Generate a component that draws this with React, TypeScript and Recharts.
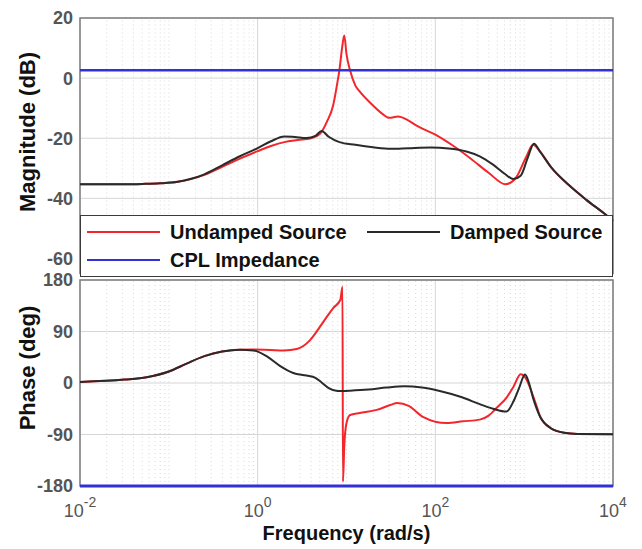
import {
  CartesianGrid,
  Legend,
  Line,
  LineChart,
  ReferenceArea,
  ReferenceLine,
  XAxis,
  YAxis,
} from 'recharts'

const FONT = '"Liberation Sans", Arial, Helvetica, sans-serif'
const RED = '#f2262b'
const BLACK = '#2a2a2a'
const BLUE = '#3131d6'
const TICK_GRAY = '#555555'

// frequencies are stored as log10(rad/s)
const undampedMagExp = [
  -2, -1.5, -1.3, -1.1, -0.9, -0.75, -0.6, -0.4, -0.2, 0, 0.15, 0.3, 0.45, 0.6, 0.7, 0.78,
  0.85, 0.9, 0.92, 0.95, 0.975, 1.0, 1.04, 1.1, 1.15, 1.27, 1.4, 1.48, 1.58, 1.68, 1.8, 2.0,
  2.2, 2.4, 2.6, 2.79, 2.91, 3.02, 3.1, 3.18, 3.3, 3.5, 3.7, 3.92, 4.0,
]
const undampedMag = [
  -35.3, -35.3, -35.2, -35.0, -34.5, -33.6, -32.2, -29.5, -26.8, -24.3, -22.6, -21.3, -20.6,
  -20.0, -18.6, -14.5, -9, -1, 2.6, 10, 14.2, 8, 2.6, -2.5, -4.5, -8.3, -11.8, -13.2, -12.8,
  -13.8, -16, -18.8, -22.5, -26.8, -31.5, -35.3, -33, -26.4, -22.2, -24.5, -29.5, -35.5,
  -40.5, -45.5, -47.5,
]

const dampedMagExp = [
  -2, -1.5, -1.3, -1.1, -0.9, -0.75, -0.6, -0.4, -0.2, 0, 0.15, 0.3, 0.42, 0.55, 0.65, 0.72,
  0.8, 0.92, 1.1, 1.3, 1.5, 1.7, 1.95, 2.15, 2.35, 2.5, 2.65, 2.78, 2.88, 2.96, 3.04, 3.11,
  3.18, 3.3, 3.5, 3.7, 3.92, 4.0,
]
const dampedMag = [
  -35.3, -35.3, -35.2, -35.0, -34.5, -33.5, -32.0, -29.0, -26.0, -23.3, -21.0, -19.4, -19.6,
  -19.9, -19.2, -17.6, -19.5, -21.3, -22.2, -23.0, -23.5, -23.3, -23.1, -23.4, -24.4, -26.0,
  -28.8, -31.8, -33.6, -32.5, -26.5, -21.8, -24.5, -29.5, -35.5, -40.5, -45.5, -47.5,
]

const undampedPhaseExp = [
  -2, -1.5, -1.25, -1.0, -0.8, -0.6, -0.4, -0.2, -0.05, 0.14, 0.3, 0.44, 0.59, 0.7, 0.78,
  0.85, 0.93, 0.955, 0.96, 0.975, 1.0, 1.04, 1.15, 1.34, 1.5, 1.57, 1.7, 1.86, 2.13, 2.31,
  2.5, 2.6, 2.7, 2.8, 2.88, 2.96, 3.02, 3.08, 3.15, 3.18, 3.3, 3.45, 3.6, 4.0,
]
const undampedPhase = [
  1.7, 6, 10, 20, 34, 47, 55, 58, 58.5, 57.7, 57, 59.4, 75, 98, 116, 131, 145, 168, -172,
  -110, -70, -56, -52.6, -47, -38, -35, -40, -59, -70, -67, -64, -57, -42, -26, -6.5, 15.5,
  8, -14, -45, -59, -79, -87, -89, -89.5,
]

const dampedPhaseExp = [
  -2, -1.5, -1.25, -1.0, -0.8, -0.6, -0.4, -0.2, -0.05, 0.1, 0.25, 0.4, 0.55, 0.65, 0.72,
  0.8, 0.9, 1.04, 1.25, 1.45, 1.65, 1.85, 2.05, 2.3, 2.5, 2.65, 2.8, 2.88, 2.94, 3.01, 3.05,
  3.1, 3.18, 3.3, 3.45, 3.6, 4.0,
]
const dampedPhase = [
  1.7, 6, 10, 20, 34, 47, 55, 58, 57, 47, 30, 17.5, 13, 9, 1, -9, -14, -13.4, -11.5, -8,
  -5.7, -8, -14, -25, -37, -45, -50, -32, -10, 15, 2, -26, -59, -79, -87, -89, -89.5,
]

const cplExp = [-2, 4]
const cplMag = [2.6, 2.6]
const cplPhase = [-180, -180]

const freqTicks = [0.01, 1, 100, 10000]
const magTicks = [-60, -40, -20, 0, 20]
const phaseTicks = [-180, -90, 0, 90, 180]
const legendOrder = ['Undamped Source', 'Damped Source', 'CPL Impedance']

const toRows = (exps: number[], vals: number[]) =>
  exps.map((e, i) => ({ f: 10 ** e, v: vals[i] }))

// dotted minor grid, matlab style (2..9 x 10^k plus the odd decades)
const minorFreqs: number[] = []
for (let k = -2; k < 4; k++) {
  for (let m = 1; m < 10; m++) {
    if (m === 1 && k % 2 === 0) continue
    minorFreqs.push(m * 10 ** k)
  }
}

function FreqTick({ x, y, payload }: any) {
  const exp = Math.round(Math.log10(payload.value))
  return (
    <text x={x} y={y + 31} textAnchor="middle" fill={TICK_GRAY} fontSize={18} fontFamily={FONT}>
      10
      <tspan dy={-10} fontSize={14}>
        {exp}
      </tspan>
    </text>
  )
}

const yTitle = (text: string, cx: number, cy: number) => ({
  content: () => (
    <text
      x={cx}
      y={cy}
      transform={`rotate(-90 ${cx} ${cy})`}
      textAnchor="middle"
      dominantBaseline="central"
      fontSize={22}
      fontWeight="bold"
      fill="#111"
      fontFamily={FONT}
    >
      {text}
    </text>
  ),
})

function BodeLegend({ payload }: any) {
  const items = [...(payload ?? [])].sort(
    (a, b) => legendOrder.indexOf(a.value) - legendOrder.indexOf(b.value),
  )
  return (
    <div
      style={{
        position: 'relative',
        width: 533,
        height: 62,
        boxSizing: 'border-box',
        border: '1.5px solid #3a3a3a',
        background: '#fff',
        fontFamily: FONT,
      }}
    >
      {items.map((p, i) => (
        <div
          key={p.value}
          style={{
            position: 'absolute',
            left: 6 + (i % 2) * 280,
            top: i < 2 ? 3 : 31,
            height: 26,
            display: 'flex',
            alignItems: 'center',
          }}
        >
          <span style={{ width: 73, borderTop: `2px solid ${p.color}`, marginRight: 10 }} />
          <span style={{ fontSize: 20, fontWeight: 'bold', color: '#111', whiteSpace: 'nowrap' }}>
            {p.value}
          </span>
        </div>
      ))}
    </div>
  )
}

const grid = (y1: number, y2: number) => [
  <CartesianGrid key="grid" stroke="#d6d6d6" strokeWidth={1} />,
  ...minorFreqs.map((f) => (
    <ReferenceLine key={`m${f}`} x={f} stroke="#dadada" strokeDasharray="1 3" />
  )),
  <ReferenceArea
    key="box"
    x1={0.01}
    x2={10000}
    y1={y1}
    y2={y2}
    fill="none"
    stroke="#7d7d7d"
    strokeWidth={1.5}
  />,
]

const yTick = { fill: TICK_GRAY, fontSize: 18, fontWeight: 'bold', fontFamily: FONT }

export default function App() {
  return (
    <div
      style={{
        position: 'absolute',
        left: 0,
        top: 0,
        width: 642,
        height: 549,
        background: '#fff',
        fontFamily: FONT,
      }}
    >
      <div style={{ position: 'absolute', left: 0, top: 0 }}>
        <LineChart width={642} height={280} margin={{ top: 18, right: 29, bottom: 6.5, left: 8 }}>
          <XAxis
            dataKey="f"
            type="number"
            scale="log"
            domain={[0.01, 10000]}
            ticks={freqTicks}
            hide
          />
          <YAxis
            type="number"
            domain={[-65, 20]}
            ticks={magTicks}
            width={72}
            axisLine={false}
            tickLine={false}
            tickSize={0}
            tickMargin={7}
            tick={yTick}
            label={yTitle('Magnitude (dB)', 27, 132)}
          />
          {grid(-65, 20)}
          <Line
            data={toRows(undampedMagExp, undampedMag)}
            dataKey="v"
            name="Undamped Source"
            type="monotone"
            stroke={RED}
            strokeWidth={2}
            dot={false}
            activeDot={false}
            isAnimationActive={false}
          />
          <Line
            data={toRows(dampedMagExp, dampedMag)}
            dataKey="v"
            name="Damped Source"
            type="monotone"
            stroke={BLACK}
            strokeWidth={2}
            dot={false}
            activeDot={false}
            isAnimationActive={false}
          />
          <Line
            data={toRows(cplExp, cplMag)}
            dataKey="v"
            name="CPL Impedance"
            type="linear"
            stroke={BLUE}
            strokeWidth={2.5}
            dot={false}
            activeDot={false}
            isAnimationActive={false}
          />
          <Legend
            layout="horizontal"
            verticalAlign="middle"
            align="center"
            wrapperStyle={{ left: 80, top: 215, width: 533, height: 62 }}
            content={BodeLegend}
          />
        </LineChart>
      </div>
      <div style={{ position: 'absolute', left: 0, top: 262 }}>
        <LineChart width={642} height={287} margin={{ top: 18, right: 29, bottom: 0, left: 8 }}>
          <XAxis
            dataKey="f"
            type="number"
            scale="log"
            domain={[0.01, 10000]}
            ticks={freqTicks}
            interval={0}
            height={63}
            axisLine={false}
            tickLine={false}
            tickSize={0}
            tickMargin={0}
            tick={<FreqTick />}
            label={{
              content: () => (
                <text
                  x={346.5}
                  y={278}
                  textAnchor="middle"
                  fontSize={20}
                  fontWeight="bold"
                  fill="#111"
                  fontFamily={FONT}
                >
                  Frequency (rad/s)
                </text>
              ),
            }}
          />
          <YAxis
            type="number"
            domain={[-180, 180]}
            ticks={phaseTicks}
            width={72}
            axisLine={false}
            tickLine={false}
            tickSize={0}
            tickMargin={7}
            tick={yTick}
            label={yTitle('Phase (deg)', 27, 106)}
          />
          {grid(-180, 180)}
          <Line
            data={toRows(undampedPhaseExp, undampedPhase)}
            dataKey="v"
            name="Undamped Source"
            type="monotone"
            stroke={RED}
            strokeWidth={2}
            dot={false}
            activeDot={false}
            isAnimationActive={false}
          />
          <Line
            data={toRows(dampedPhaseExp, dampedPhase)}
            dataKey="v"
            name="Damped Source"
            type="monotone"
            stroke={BLACK}
            strokeWidth={2}
            dot={false}
            activeDot={false}
            isAnimationActive={false}
          />
          <Line
            data={toRows(cplExp, cplPhase)}
            dataKey="v"
            name="CPL Impedance"
            type="linear"
            stroke={BLUE}
            strokeWidth={3}
            dot={false}
            activeDot={false}
            isAnimationActive={false}
          />
        </LineChart>
      </div>
    </div>
  )
}
